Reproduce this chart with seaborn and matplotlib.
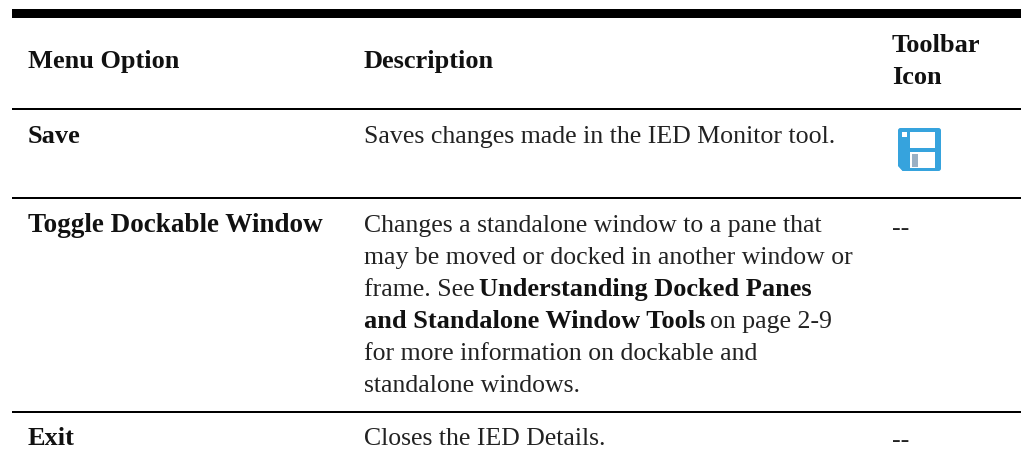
import matplotlib
matplotlib.use("Agg")
import matplotlib.pyplot as plt
from matplotlib.patches import Rectangle, FancyBboxPatch, Polygon
import seaborn as sns

sns.set_theme(style="white")
plt.rcParams['font.family'] = ['Liberation Serif', 'DejaVu Serif']

header_labels = ["Menu Option", "Description"]
toolbar_header = ["Toolbar", "Icon"]
menu_options = ["Save", "Toggle Dockable Window", "Exit"]
save_desc = "Saves changes made in the IED Monitor tool."
exit_desc = "Closes the IED Details."
toolbar_cells = ["--", "--"]
toggle_desc = [
    [("Changes a standalone window to a pane that", False)],
    [("may be moved or docked in another window or", False)],
    [("frame. See ", False), ("Understanding Docked Panes", True)],
    [("and Standalone Window Tools", True), (" on page 2-9", False)],
    [("for more information on dockable and", False)],
    [("standalone windows.", False)],
]

W, H = 1021, 461
COL1, COL2, COL3 = 28, 364, 892
LINE_H = 32
FS_REG, FS_BOLD = 18.5, 19.0
INK, BODY = "#111111", "#222222"

fig = plt.figure(figsize=(W/100, H/100), dpi=100)
ax = fig.add_axes([0, 0, 1, 1])
ax.set_xlim(0, W); ax.set_ylim(H, 0); ax.axis("off")

def put(x, y, s, bold=False, size=None):
    return ax.text(x, y, s, fontsize=size or (FS_BOLD if bold else FS_REG),
                   fontweight="bold" if bold else "normal",
                   color=INK if bold else BODY, va="baseline", ha="left")

for y0, y1 in [(9, 18), (108, 110), (197, 199), (411, 413)]:
    ax.add_patch(Rectangle((12, y0), W-12, y1-y0, color="black", lw=0))

put(COL1, 68, header_labels[0], True)
put(COL2, 68, header_labels[1], True)
put(COL3, 52, toolbar_header[0], True)
put(COL3, 84, toolbar_header[1], True)

put(COL1, 143, menu_options[0], True)
put(COL2, 143, save_desc, size=18.65)
put(COL1, 232, menu_options[1], True, size=19.5)
put(COL3, 235, toolbar_cells[0])
put(COL1, 445, menu_options[2], True)
put(COL2, 445, exit_desc)
put(COL3, 447, toolbar_cells[1])

renderer = fig.canvas.get_renderer()
for i, segments in enumerate(toggle_desc):
    x = COL2
    y = 232 + i * LINE_H
    for s, bold in segments:
        stripped = s.lstrip()
        x += (len(s) - len(stripped)) * 4.6
        t = put(x, y, stripped.rstrip(), bold)
        x = t.get_window_extent(renderer).x1 + (len(stripped) - len(stripped.rstrip())) * 4.6

# save icon
ax.add_patch(FancyBboxPatch((898, 128), 43, 43, boxstyle="round,pad=0,rounding_size=2.5",
                            color="#36a3dd", lw=0))
ax.add_patch(Polygon([(897, 171.5), (897, 165), (903, 171.5)], color="white", lw=0))
ax.add_patch(Polygon([(898, 165), (903, 171), (910, 171), (910, 160), (898, 160)],
                     color="#36a3dd", lw=0))
ax.add_patch(Rectangle((910, 132), 25, 16, color="white", lw=0))
ax.add_patch(Rectangle((910, 152), 25, 16, color="white", lw=0))
ax.add_patch(Rectangle((912, 154), 6, 13, color="#9ab0c4", lw=0))
ax.add_patch(Rectangle((902, 132), 5, 5, color="white", lw=0))
fig.savefig("out.png", dpi=100)
